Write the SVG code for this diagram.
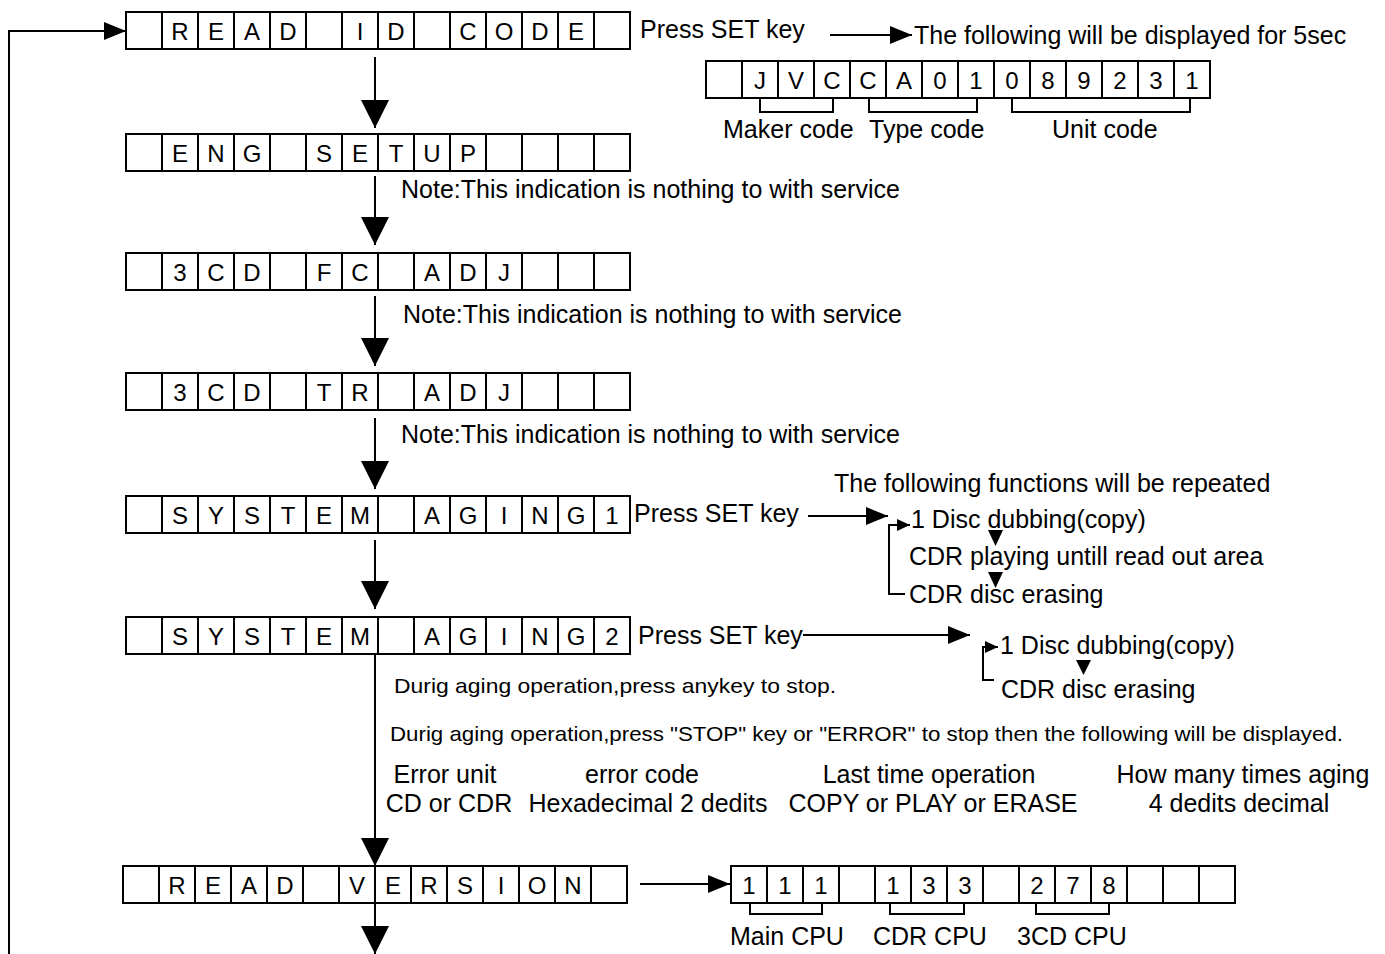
<svg xmlns="http://www.w3.org/2000/svg" xmlns:xlink="http://www.w3.org/1999/xlink" width="1385" height="954" viewBox="0 0 1385 954">
<style>
text{font-family:"Liberation Sans",Arial,sans-serif;fill:#000}
.c{font-size:24px;text-anchor:middle}
.t{font-size:25px}
.m{font-size:25px;text-anchor:middle}
.s{font-size:21px}
.ln{fill:none;stroke:#000;stroke-width:2}
.tri{fill:#000}
.box{fill:#fff;stroke:#000;stroke-width:2}
</style>
<defs>
<g id="disp">
<rect class="box" x="0" y="0" width="504" height="37"/>
<path class="ln" d="M36,0V37M72,0V37M108,0V37M144,0V37M180,0V37M216,0V37M252,0V37M288,0V37M324,0V37M360,0V37M396,0V37M432,0V37M468,0V37"/>
</g>
<marker id="ah" markerUnits="userSpaceOnUse" markerWidth="28" markerHeight="28" refX="28" refY="14" orient="auto"><path d="M0,0L28,14L0,28z" fill="#000"/></marker>
<marker id="ah2" markerUnits="userSpaceOnUse" markerWidth="22" markerHeight="18" refX="22" refY="9" orient="auto"><path d="M0,0L22,9L0,18z" fill="#000"/></marker>
<marker id="ah3" markerUnits="userSpaceOnUse" markerWidth="13" markerHeight="12" refX="13" refY="6" orient="auto"><path d="M0,0L13,6L0,12z" fill="#000"/></marker>
</defs>
<rect width="1385" height="954" fill="#fff"/>

<g id="connectors">
<path class="ln" d="M9,954V31H126" marker-end="url(#ah2)"/>
<path class="ln" d="M375,57V128" marker-end="url(#ah)"/>
<path class="ln" d="M375,176V245" marker-end="url(#ah)"/>
<path class="ln" d="M375,296V366" marker-end="url(#ah)"/>
<path class="ln" d="M375,418V489" marker-end="url(#ah)"/>
<path class="ln" d="M375,540V609" marker-end="url(#ah)"/>
<path class="ln" d="M375,654V866" marker-end="url(#ah)"/>
<path class="ln" d="M375,903V954" marker-end="url(#ah)"/>
<path class="ln" d="M830,35H912" marker-end="url(#ah2)"/>
<path class="ln" d="M808,516H888" marker-end="url(#ah2)"/>
<path class="ln" d="M803,635H970" marker-end="url(#ah2)"/>
<path class="ln" d="M640,884H730" marker-end="url(#ah2)"/>
<path class="ln" d="M905,594H889V525H910" marker-end="url(#ah3)"/>
<path class="ln" d="M994,680H983V647H998" marker-end="url(#ah3)"/>
<polygon class="tri" points="988,530 1003,530 995.5,546"/>
<polygon class="tri" points="988,572 1003,572 995.5,588"/>
<polygon class="tri" points="1076,660 1091,660 1083.5,675"/>
<path class="ln" d="M760,97V112H833V97M869,97V112H977V97M1012,97V112H1190V97"/>
<path class="ln" d="M750,903V914H822V903M890,903V914H964V903M1036,903V914H1109V903"/>
</g>

<g id="n-read-id">
<use xlink:href="#disp" x="126" y="12"/>
<text class="c" y="40"><tspan x="180">R</tspan><tspan x="216">E</tspan><tspan x="252">A</tspan><tspan x="288">D</tspan><tspan x="360">I</tspan><tspan x="396">D</tspan><tspan x="468">C</tspan><tspan x="504">O</tspan><tspan x="540">D</tspan><tspan x="576">E</tspan></text>
</g>
<g id="n-eng-setup">
<use xlink:href="#disp" x="126" y="134"/>
<text class="c" y="162"><tspan x="180">E</tspan><tspan x="216">N</tspan><tspan x="252">G</tspan><tspan x="324">S</tspan><tspan x="360">E</tspan><tspan x="396">T</tspan><tspan x="432">U</tspan><tspan x="468">P</tspan></text>
</g>
<g id="n-3cd-fc">
<use xlink:href="#disp" x="126" y="253"/>
<text class="c" y="281"><tspan x="180">3</tspan><tspan x="216">C</tspan><tspan x="252">D</tspan><tspan x="324">F</tspan><tspan x="360">C</tspan><tspan x="432">A</tspan><tspan x="468">D</tspan><tspan x="504">J</tspan></text>
</g>
<g id="n-3cd-tr">
<use xlink:href="#disp" x="126" y="373"/>
<text class="c" y="401"><tspan x="180">3</tspan><tspan x="216">C</tspan><tspan x="252">D</tspan><tspan x="324">T</tspan><tspan x="360">R</tspan><tspan x="432">A</tspan><tspan x="468">D</tspan><tspan x="504">J</tspan></text>
</g>
<g id="n-aging1">
<use xlink:href="#disp" x="126" y="496"/>
<text class="c" y="524"><tspan x="180">S</tspan><tspan x="216">Y</tspan><tspan x="252">S</tspan><tspan x="288">T</tspan><tspan x="324">E</tspan><tspan x="360">M</tspan><tspan x="432">A</tspan><tspan x="468">G</tspan><tspan x="504">I</tspan><tspan x="540">N</tspan><tspan x="576">G</tspan><tspan x="612">1</tspan></text>
</g>
<g id="n-aging2">
<use xlink:href="#disp" x="126" y="617"/>
<text class="c" y="645"><tspan x="180">S</tspan><tspan x="216">Y</tspan><tspan x="252">S</tspan><tspan x="288">T</tspan><tspan x="324">E</tspan><tspan x="360">M</tspan><tspan x="432">A</tspan><tspan x="468">G</tspan><tspan x="504">I</tspan><tspan x="540">N</tspan><tspan x="576">G</tspan><tspan x="612">2</tspan></text>
</g>
<g id="n-read-version">
<use xlink:href="#disp" x="123" y="866"/>
<text class="c" y="894"><tspan x="177">R</tspan><tspan x="213">E</tspan><tspan x="249">A</tspan><tspan x="285">D</tspan><tspan x="357">V</tspan><tspan x="393">E</tspan><tspan x="429">R</tspan><tspan x="465">S</tspan><tspan x="501">I</tspan><tspan x="537">O</tspan><tspan x="573">N</tspan></text>
</g>
<g id="n-id-display">
<use xlink:href="#disp" x="706" y="61"/>
<text class="c" y="89"><tspan x="760">J</tspan><tspan x="796">V</tspan><tspan x="832">C</tspan><tspan x="868">C</tspan><tspan x="904">A</tspan><tspan x="940">0</tspan><tspan x="976">1</tspan><tspan x="1012">0</tspan><tspan x="1048">8</tspan><tspan x="1084">9</tspan><tspan x="1120">2</tspan><tspan x="1156">3</tspan><tspan x="1192">1</tspan></text>
<text class="t" x="723" y="138">Maker code</text>
<text class="t" x="869" y="138">Type code</text>
<text class="t" x="1052" y="138">Unit code</text>
</g>
<g id="n-version-display">
<use xlink:href="#disp" x="731" y="866"/>
<text class="c" y="894"><tspan x="749">1</tspan><tspan x="785">1</tspan><tspan x="821">1</tspan><tspan x="893">1</tspan><tspan x="929">3</tspan><tspan x="965">3</tspan><tspan x="1037">2</tspan><tspan x="1073">7</tspan><tspan x="1109">8</tspan></text>
<text class="t" x="730" y="945">Main CPU</text>
<text class="t" x="873" y="945">CDR CPU</text>
<text class="t" x="1017" y="945">3CD CPU</text>
</g>

<g id="labels">
<text class="t" x="640" y="38">Press SET key</text>
<text class="t" x="914" y="44">The following will be displayed for 5sec</text>
<text class="t" x="401" y="198">Note:This indication is nothing to with service</text>
<text class="t" x="403" y="323">Note:This indication is nothing to with service</text>
<text class="t" x="401" y="443">Note:This indication is nothing to with service</text>
<text class="t" x="834" y="492">The following functions will be repeated</text>
<text class="t" x="634" y="522">Press SET key</text>
<text class="t" x="911" y="528">1 Disc dubbing(copy)</text>
<text class="t" x="909" y="565">CDR playing untill read out area</text>
<text class="t" x="909" y="603">CDR disc erasing</text>
<text class="t" x="638" y="644">Press SET key</text>
<text class="t" x="1000" y="654">1 Disc dubbing(copy)</text>
<text class="t" x="1001" y="698">CDR disc erasing</text>
<text class="s" x="394" y="693" textLength="442" lengthAdjust="spacingAndGlyphs">Durig aging operation,press anykey to stop.</text>
<text class="s" x="390" y="741" textLength="953" lengthAdjust="spacingAndGlyphs">Durig aging operation,press "STOP" key or "ERROR" to stop then the following will be displayed.</text>
<text class="m" x="445" y="783">Error unit</text>
<text class="m" x="642" y="783">error code</text>
<text class="m" x="929" y="783">Last time operation</text>
<text class="m" x="1243" y="783">How many times aging</text>
<text class="m" x="449" y="812">CD or CDR</text>
<text class="m" x="648" y="812">Hexadecimal 2 dedits</text>
<text class="m" x="933" y="812">COPY or PLAY or ERASE</text>
<text class="m" x="1239" y="812">4 dedits decimal</text>
</g>
</svg>
